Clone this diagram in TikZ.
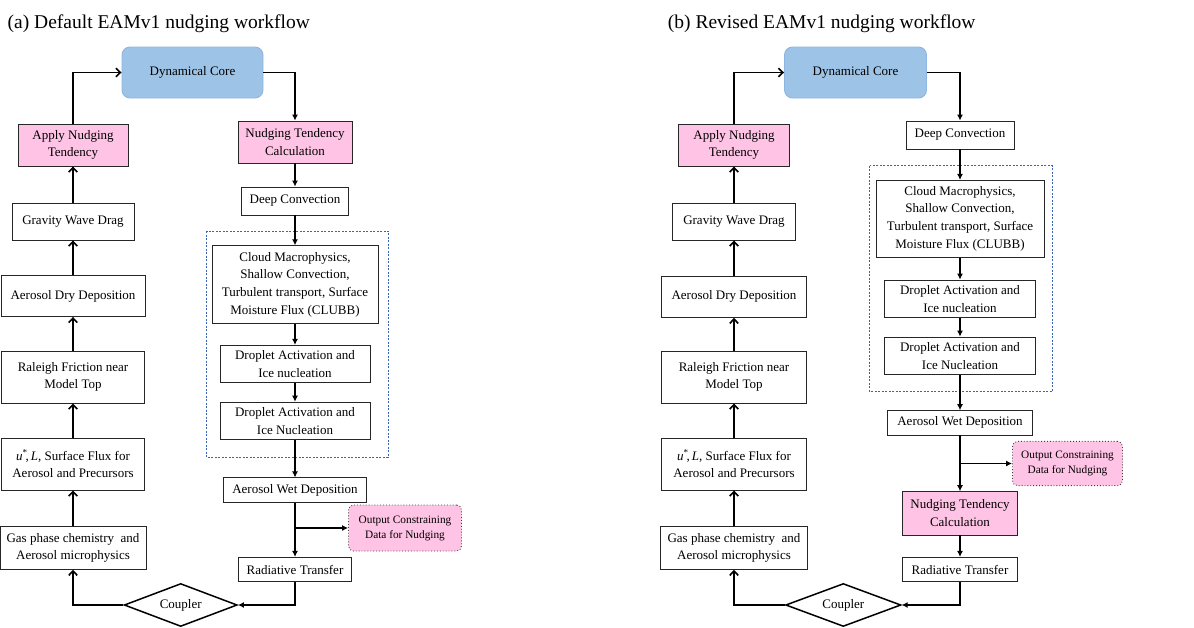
\documentclass[tikz,border=0pt]{standalone}
\usepackage{fontspec}
\setmainfont{Liberation Serif}
\usepackage{amsmath,amssymb}
\usetikzlibrary{arrows.meta,shapes.geometric}

\definecolor{nudgepink}{HTML}{FFC4E5}
\definecolor{coreblue}{HTML}{9DC3E6}
\definecolor{coreedge}{HTML}{8DB6E0}
\definecolor{grpblue}{HTML}{3A64B8}

\tikzset{
  procbox/.style={draw=black!85, line width=0.9pt, fill=white, align=center, inner sep=0pt,
    font=\fontsize{13}{17.7}\selectfont},
  nudgebox/.style={procbox, fill=nudgepink},
  corebox/.style={procbox, fill=coreblue, draw=coreedge, rounded corners=8pt},
  outbox/.style={procbox, fill=nudgepink, draw=black!75, dotted, rounded corners=5pt,
    font=\fontsize{11.3}{15}\selectfont},
  grpbox/.style={draw=grpblue, line width=0.7pt, dash pattern=on 2pt off 1.5pt},
  couplerbox/.style={diamond, draw=black, line width=1.5pt, fill=white, inner sep=0pt, aspect=2.6,
    font=\fontsize{13}{15}\selectfont},
  uparr/.style={line width=1.6pt, -{Straight Barb[length=4.5pt,width=8.5pt]}},
  dnarr/.style={line width=1.1pt, -{Latex[length=6pt,width=6pt]}},
  paneltitle/.style={anchor=base west, inner sep=0pt, font=\fontsize{19.5}{23}\selectfont}
}
\newcommand{\fluxlabel}{\textit{u}\textsuperscript{*}\!,\,\textit{L},}

\begin{document}
\begin{tikzpicture}[x=1pt,y=-1pt]
\useasboundingbox (0,0) rectangle (1194,627);

% panel (a): default workflow
\node[paneltitle] (aTitle) at (7.5,28) {(a) Default EAMv1 nudging workflow};
\draw[grpbox] (206.7,231) rectangle (388.3,457.3);
\node[corebox, minimum width=141, minimum height=51] (aCore) at (192.5,72.5) {Dynamical Core};
\node[nudgebox, minimum width=110, minimum height=42] (aApply) at (73,145) {Apply Nudging\\Tendency};
\node[procbox, minimum width=122, minimum height=37] (aGrav) at (73,221.5) {Gravity Wave Drag};
\node[procbox, minimum width=144, minimum height=41] (aDry) at (73,296) {Aerosol Dry Deposition};
\node[procbox, minimum width=143, minimum height=52] (aRal) at (73,377) {Raleigh Friction near\\Model Top};
\node[procbox, minimum width=143, minimum height=52] (aFlux) at (73,464) {\fluxlabel{} Surface Flux for\\Aerosol and Precursors};
\node[procbox, minimum width=146, minimum height=42.6] (aGas) at (73,548) {Gas phase chemistry\ \ and\\Aerosol microphysics};
\node[nudgebox, minimum width=114, minimum height=42] (aNtc) at (295,142) {Nudging Tendency\\Calculation};
\node[procbox, minimum width=107, minimum height=28] (aDeep) at (295,201) {Deep Convection};
\node[procbox, minimum width=166, minimum height=77.6] (aCloud) at (295,284.5) {Cloud Macrophysics,\\Shallow Convection,\\Turbulent transport, Surface\\Moisture Flux (CLUBB)};
\node[procbox, minimum width=150, minimum height=37.3] (aDropA) at (295,364) {Droplet Activation and\\Ice nucleation};
\node[procbox, minimum width=150, minimum height=37.7] (aDropB) at (295,421) {Droplet Activation and\\Ice Nucleation};
\node[procbox, minimum width=143.7, minimum height=24.3] (aWet) at (295,490) {Aerosol Wet Deposition};
\node[outbox, minimum width=113, minimum height=46] (aOut) at (405,528) {Output Constraining\\Data for Nudging};
\node[procbox, minimum width=113, minimum height=24.3] (aRad) at (295,569.5) {Radiative Transfer};
\node[couplerbox, minimum width=113, minimum height=43] (aCoupler) at (180.7,605) {Coupler};
\coordinate (aBranch) at (295,528);

\draw[uparr] (aApply.north) |- (aCore.west);
\draw[dnarr] (aCore.east) -| (aNtc.north);
\draw[dnarr] (aNtc) -- (aDeep);
\draw[dnarr] (aDeep) -- (aCloud);
\draw[dnarr] (aCloud) -- (aDropA);
\draw[dnarr] (aDropA) -- (aDropB);
\draw[dnarr] (aDropB) -- (aWet);
\draw[dnarr] (aWet) -- (aRad);
\draw[dnarr] (aBranch) -- (aOut.west);
\draw[dnarr] (aRad.south) |- (aCoupler.east);
\draw[uparr] (aCoupler.west) -| (aGas.south);
\draw[uparr] (aGas) -- (aFlux);
\draw[uparr] (aFlux) -- (aRal);
\draw[uparr] (aRal) -- (aDry);
\draw[uparr] (aDry) -- (aGrav);
\draw[uparr] (aGrav) -- (aApply);

% panel (b): revised workflow
\node[paneltitle] (bTitle) at (667.7,28) {(b) Revised EAMv1 nudging workflow};
\draw[grpbox] (869.7,165.7) rectangle (1052.3,391.7);
\node[corebox, minimum width=142, minimum height=51] (bCore) at (855.5,72.5) {Dynamical Core};
\node[nudgebox, minimum width=111, minimum height=42] (bApply) at (734,145) {Apply Nudging\\Tendency};
\node[procbox, minimum width=122.7, minimum height=37] (bGrav) at (734,221.5) {Gravity Wave Drag};
\node[procbox, minimum width=145.7, minimum height=41.3] (bDry) at (734,296.7) {Aerosol Dry Deposition};
\node[procbox, minimum width=144.7, minimum height=52] (bRal) at (734,377) {Raleigh Friction near\\Model Top};
\node[procbox, minimum width=144.7, minimum height=52] (bFlux) at (734,464) {\fluxlabel{} Surface Flux for\\Aerosol and Precursors};
\node[procbox, minimum width=147, minimum height=42.6] (bGas) at (734,548) {Gas phase chemistry\ \ and\\Aerosol microphysics};
\node[procbox, minimum width=108, minimum height=28] (bDeep) at (960,135) {Deep Convection};
\node[procbox, minimum width=168, minimum height=76.7] (bCloud) at (960,218.7) {Cloud Macrophysics,\\Shallow Convection,\\Turbulent transport, Surface\\Moisture Flux (CLUBB)};
\node[procbox, minimum width=151, minimum height=37.3] (bDropA) at (960,298.7) {Droplet Activation and\\Ice nucleation};
\node[procbox, minimum width=151, minimum height=37.3] (bDropB) at (960,355.7) {Droplet Activation and\\Ice Nucleation};
\node[procbox, minimum width=144.7, minimum height=24.3] (bWet) at (960,422.8) {Aerosol Wet Deposition};
\node[outbox, minimum width=110, minimum height=44.3] (bOut) at (1067.5,463.5) {Output Constraining\\Data for Nudging};
\node[nudgebox, minimum width=114.7, minimum height=43.3] (bNtc) at (960,513.3) {Nudging Tendency\\Calculation};
\node[procbox, minimum width=114.7, minimum height=24.3] (bRad) at (960,569.5) {Radiative Transfer};
\node[couplerbox, minimum width=115.3, minimum height=43] (bCoupler) at (843.3,605) {Coupler};
\coordinate (bBranch) at (960,463.5);

\draw[uparr] (bApply.north) |- (bCore.west);
\draw[dnarr] (bCore.east) -| (bDeep.north);
\draw[dnarr] (bDeep) -- (bCloud);
\draw[dnarr] (bCloud) -- (bDropA);
\draw[dnarr] (bDropA) -- (bDropB);
\draw[dnarr] (bDropB) -- (bWet);
\draw[dnarr] (bWet) -- (bNtc);
\draw[dnarr] (bBranch) -- (bOut.west);
\draw[dnarr] (bNtc) -- (bRad);
\draw[dnarr] (bRad.south) |- (bCoupler.east);
\draw[uparr] (bCoupler.west) -| (bGas.south);
\draw[uparr] (bGas) -- (bFlux);
\draw[uparr] (bFlux) -- (bRal);
\draw[uparr] (bRal) -- (bDry);
\draw[uparr] (bDry) -- (bGrav);
\draw[uparr] (bGrav) -- (bApply);

\end{tikzpicture}
\end{document}
